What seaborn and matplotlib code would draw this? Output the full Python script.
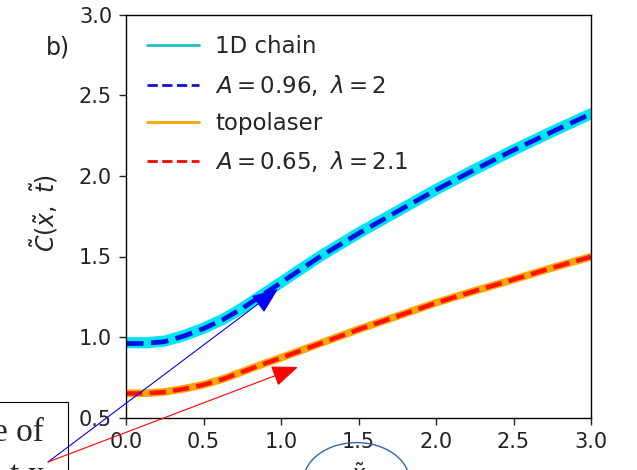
import numpy as np
import pandas as pd
import matplotlib
matplotlib.use("Agg")
import matplotlib.pyplot as plt
from matplotlib.lines import Line2D
from matplotlib.patches import FancyArrowPatch, Circle, Rectangle
import seaborn as sns

# valeurs
x_vals = [0.0, 0.125, 0.25, 0.375, 0.5, 0.625, 0.75, 0.875, 1.0,
          1.25, 1.5, 1.75, 2.0, 2.25, 2.5, 2.75, 3.0]
chain_vals = [0.965, 0.965, 0.975, 1.01, 1.055, 1.11, 1.18, 1.26, 1.34,
              1.50, 1.645, 1.78, 1.915, 2.04, 2.16, 2.275, 2.385]
chain_fit = [0.96, 0.961, 0.972, 1.007, 1.053, 1.108, 1.178, 1.258, 1.338,
             1.498, 1.643, 1.779, 1.913, 2.039, 2.16, 2.274, 2.385]
topo_vals = [0.651, 0.652, 0.66, 0.68, 0.705, 0.74, 0.785, 0.83, 0.872,
             0.96, 1.048, 1.13, 1.213, 1.287, 1.357, 1.43, 1.498]
topo_fit = [0.65, 0.651, 0.659, 0.679, 0.704, 0.739, 0.784, 0.829, 0.871,
            0.959, 1.047, 1.129, 1.212, 1.286, 1.357, 1.43, 1.498]
labels = ['1D chain', r'$A=0.96,\ \lambda=2$', 'topolaser', r'$A=0.65,\ \lambda=2.1$']

df = pd.DataFrame({'x': x_vals, 'chain': chain_vals, 'chain_fit': chain_fit,
                   'topo': topo_vals, 'topo_fit': topo_fit})

sns.set_style('ticks')
plt.rcParams['font.family'] = ['DejaVu Sans']

W, H = 637, 470
fig = plt.figure(figsize=(W / 100, H / 100), dpi=100)
ax = fig.add_axes([126 / W, 1 - 417.7 / H, (591 - 126) / W, (417.7 - 14.7) / H])

sns.lineplot(data=df, x='x', y='chain', ax=ax, color='#00e5f2', lw=8, legend=False)
sns.lineplot(data=df, x='x', y='chain_fit', ax=ax, color='#0010e0', lw=3.4, ls='--', legend=False)
sns.lineplot(data=df, x='x', y='topo', ax=ax, color='orange', lw=5.5, legend=False)
sns.lineplot(data=df, x='x', y='topo_fit', ax=ax, color='#ff1000', lw=3.2, ls='--', legend=False)

ax.set_xlim(0, 3)
ax.set_ylim(0.5, 3.0)
ax.set_xticks(np.arange(0, 3.01, 0.5))
ax.set_yticks(np.arange(0.5, 3.01, 0.5))
ax.tick_params(labelsize=15, length=5, width=1, pad=5, colors='#222222', labelcolor='#222222')
for s in ax.spines.values():
    s.set_color('black')
    s.set_linewidth(1)
ax.set_xlabel(r'$\tilde{x}$', fontsize=16, labelpad=8)
ax.set_ylabel(r'$\tilde{C}(\tilde{x},\ \tilde{t})$', fontsize=17)
ax.yaxis.set_label_coords(-0.142, 0.507)

handles = [Line2D([], [], color='#20c0c8', lw=2),
           Line2D([], [], color='#1010d0', lw=2, ls='--'),
           Line2D([], [], color='orange', lw=2),
           Line2D([], [], color='red', lw=2, ls='--')]
ax.legend(handles, labels, loc='upper left', frameon=False, fontsize=16.5,
          handlelength=2.3, handletextpad=0.7, labelspacing=0.62,
          bbox_to_anchor=(0.0, 1.0))

fig.text(58 / W, 1 - 47 / H, 'b)', fontsize=17, ha='center', va='center', color='#222222')

# surcouches (capture d'ecran)
def fp(px, py):
    return (px / W, 1 - py / H)

fig.add_artist(Rectangle(fp(-2, 480), 70 / W, 78 / H, transform=fig.transFigure,
                         fill=True, facecolor='white', edgecolor='black', lw=0.8))
fig.text(44 / W, 1 - 433 / H, 'e of', fontsize=24, family='Liberation Serif',
         ha='right', va='center')
fig.text(44 / W, 1 - 476 / H, 't x', fontsize=24, family='Liberation Serif',
         ha='right', va='center')
head = '-|>,head_length=0.55,head_width=0.22'
fig.add_artist(FancyArrowPatch(fp(48, 462), fp(278, 289), transform=fig.transFigure,
                               arrowstyle=head, mutation_scale=30, color='blue', lw=0.8,
                               shrinkA=0, shrinkB=0))
fig.add_artist(FancyArrowPatch(fp(48, 462), fp(298, 367), transform=fig.transFigure,
                               arrowstyle=head, mutation_scale=30, color='red', lw=0.8,
                               shrinkA=0, shrinkB=0))
fig.add_artist(Circle(fp(356.5, 482), 39.4 / H, transform=fig.transFigure,
                      fill=False, edgecolor='#3565a5', lw=1))

fig.savefig('out.png', dpi=100)
